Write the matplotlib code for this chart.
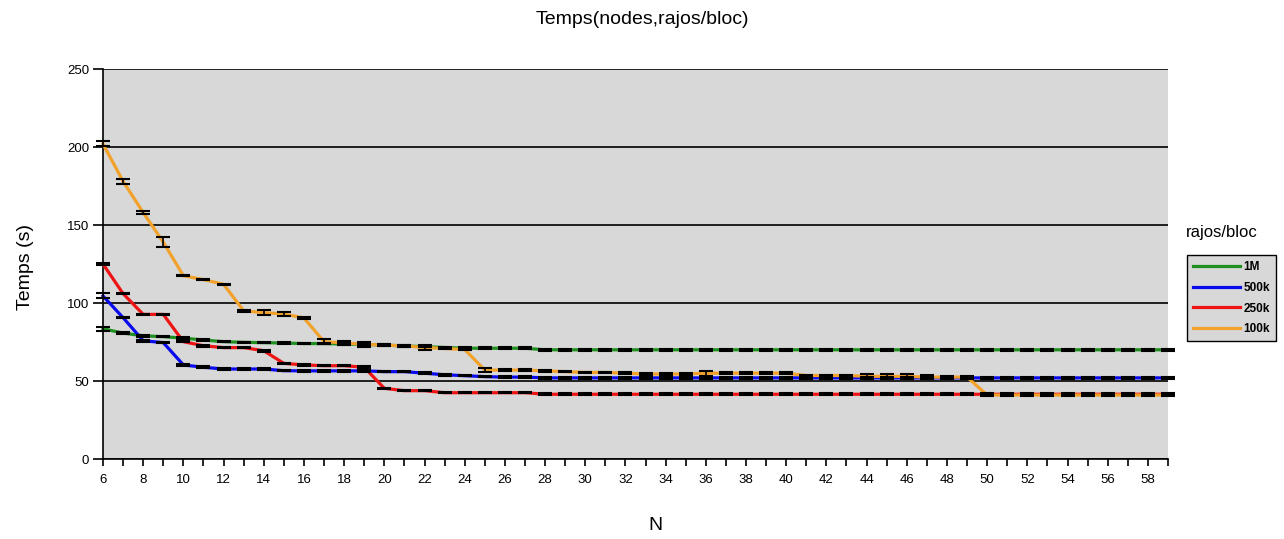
import matplotlib
matplotlib.use("Agg")
import matplotlib.pyplot as plt
from matplotlib.ticker import MultipleLocator

plt.rcParams['font.family'] = ['Liberation Sans', 'DejaVu Sans']

# N values (nodes)
nodes = list(range(6, 60))

# time per series, N = 6 .. 59
t_1M = [83.5, 80.7, 79, 78.4, 77.5, 76.3, 75.2, 74.8, 74.6, 74.3,
        74, 74, 73.7, 73.5, 73, 72.5, 72, 71.5, 71, 71,
        71, 71, 70, 70, 70, 70, 70, 70, 70, 70,
        70, 70, 70, 70, 70, 70, 70, 70, 70, 70,
        70, 70, 70, 70, 70, 70, 70, 70, 70, 70,
        70, 70, 70, 70]
t_500k = [104.5, 90.6, 75.8, 74.6, 60.3, 58.8, 57.7, 57.7, 57.7, 56.6,
          56.5, 56.5, 56.5, 56.5, 56, 56, 55, 54, 53.4, 52.8,
          52.5, 52.5, 52, 52, 52, 52, 52, 52, 52, 52,
          52, 52, 52, 52, 52, 52, 52, 52, 52, 52,
          52, 52, 52, 52, 52, 52, 52, 52, 52, 52,
          52, 52, 52, 52]
t_250k = [125, 106, 92.7, 92.7, 75.2, 72.6, 71.4, 71.4, 69.4, 61.3,
          60.3, 59.8, 59.8, 58.8, 45.3, 43.8, 43.8, 42.5, 42.5, 42.5,
          42.5, 42.5, 41.5, 41.5, 41.5, 41.5, 41.5, 41.5, 41.5, 41.5,
          41.5, 41.5, 41.5, 41.5, 41.5, 41.5, 41.5, 41.5, 41.5, 41.5,
          41.5, 41.5, 41.5, 41.5, 41.5, 41.5, 41.5, 41.5, 41.5, 41.5,
          41.5, 41.5, 41.5, 41.5]
t_100k = [202, 178, 158, 139, 117.5, 115, 112, 95, 93.8, 93,
          90.4, 75.2, 74.4, 73.5, 73, 72.5, 71.5, 70.8, 70.2, 57,
          57, 57, 56.5, 56, 55.5, 55.5, 55, 54.5, 54.5, 54.5,
          55, 55, 55, 55, 55, 53.5, 53.5, 53.5, 53, 53,
          53, 52.5, 52.5, 52.5, 41, 41, 41, 41, 41, 41,
          41, 41, 41, 41]

# error bars (half width)
e_1M = [1.3, 0.5, 0.5, 0.5, 0.5, 0.5, 0.5, 0.5, 0.5, 0.5,
        0.5, 0.5, 0.5, 0.5, 0.5, 0.5, 0.5, 0.5, 0.5, 0.5,
        0.5, 0.5, 0.5, 0.5, 0.5, 0.5, 0.5, 0.5, 0.5, 0.5,
        0.5, 0.5, 0.5, 0.5, 0.5, 0.5, 0.5, 0.5, 0.5, 0.5,
        0.5, 0.5, 0.5, 0.5, 0.5, 0.5, 0.5, 0.5, 0.5, 0.5,
        0.5, 0.5, 0.5, 0.5]
e_500k = [1.6, 0.5, 0.5, 0.5, 0.5, 0.5, 0.5, 0.5, 0.5, 0.5,
          0.5, 0.5, 0.5, 0.5, 0.5, 0.5, 0.5, 0.5, 0.5, 0.5,
          0.5, 0.5, 0.5, 0.5, 0.5, 0.5, 0.5, 0.5, 0.5, 0.5,
          0.5, 0.5, 0.5, 0.5, 0.5, 0.5, 0.5, 0.5, 0.5, 0.5,
          0.5, 0.5, 0.5, 0.5, 0.5, 0.5, 0.5, 0.5, 0.5, 0.5,
          0.5, 0.5, 0.5, 0.5]
e_250k = [0.5, 0.5, 0.5, 0.5, 0.5, 0.5, 0.5, 0.5, 0.5, 0.5,
          0.5, 0.5, 0.5, 0.5, 0.5, 0.5, 0.5, 0.5, 0.5, 0.5,
          0.5, 0.5, 0.5, 0.5, 0.5, 0.5, 0.5, 0.5, 0.5, 0.5,
          0.5, 0.5, 0.5, 0.5, 0.5, 0.5, 0.5, 0.5, 0.5, 0.5,
          0.5, 0.5, 0.5, 0.5, 0.5, 0.5, 0.5, 0.5, 0.5, 0.5,
          0.5, 0.5, 0.5, 0.5]
e_100k = [1.6, 1.5, 1.2, 3.4, 0.5, 0.5, 0.5, 0.5, 1.5, 1.5,
          0.5, 1.5, 1.5, 1.5, 0.5, 0.5, 1.5, 0.5, 0.5, 1.5,
          0.5, 0.5, 0.5, 0.5, 0.5, 0.5, 0.5, 0.5, 0.5, 0.5,
          1.6, 0.5, 0.5, 0.5, 0.5, 0.5, 0.5, 0.5, 1.5, 1.5,
          1.5, 1.5, 0.5, 0.5, 0.5, 0.5, 0.5, 0.5, 0.5, 0.5,
          0.5, 0.5, 0.5, 0.5]

series = [("1M", t_1M, e_1M, "#1f8f1f"),
          ("500k", t_500k, e_500k, "#0a0aee"),
          ("250k", t_250k, e_250k, "#ee1414"),
          ("100k", t_100k, e_100k, "#f2a22a")]

fig = plt.figure(figsize=(12.84, 5.39), dpi=100)
ax = fig.add_axes([103 / 1284, 80 / 539, 1065 / 1284, 390 / 539])
ax.set_facecolor("#d8d8d8")

for name, vals, errs, col in series:
    ax.plot(nodes, vals, color=col, lw=2.3, label=name, clip_on=False, zorder=3)

# black error caps on top of all the lines
for name, vals, errs, col in series:
    ax.errorbar(nodes, vals, yerr=errs, fmt="none", ecolor="black",
                elinewidth=1.2, capsize=5, capthick=1.5, zorder=5, clip_on=False)

ax.set_xlim(6, 59)
ax.set_ylim(0, 250)
ax.yaxis.set_major_locator(MultipleLocator(50))
ax.xaxis.set_major_locator(MultipleLocator(2))
ax.xaxis.set_minor_locator(MultipleLocator(1))
ax.grid(axis="y", color="black", lw=1.2)
ax.set_axisbelow(True)

for s in ["top", "right"]:
    ax.spines[s].set_visible(False)
ax.spines["left"].set_linewidth(1.2)
ax.spines["bottom"].set_linewidth(1.2)
ax.tick_params(axis="y", direction="out", length=7, width=1.2, labelsize=9.5, pad=3)
ax.tick_params(axis="x", which="both", direction="out", length=5, width=1.2, labelsize=9.5, pad=6)

fig.text(0.5, 0.963, "Temps(nodes,rajos/bloc)", ha="center", va="center", fontsize=14)
fig.text(25 / 1284, 0.505, "Temps (s)", ha="center", va="center", rotation=90, fontsize=14)
fig.text(655 / 1284, 1 - 525 / 539, "N", ha="center", va="center", fontsize=14)
fig.text(1222 / 1284, 1 - 232 / 539, "rajos/bloc", ha="center", va="center", fontsize=12)

leg = fig.legend(loc="upper left", bbox_to_anchor=(1187 / 1284, 1 - 255 / 539),
                 fontsize=8.5, handlelength=4, frameon=True, fancybox=False,
                 facecolor="#d8d8d8", edgecolor="black", framealpha=1,
                 borderpad=0.5, labelspacing=0.75, handletextpad=0.3, borderaxespad=0)
leg.get_frame().set_linewidth(1.0)
for t in leg.get_texts():
    t.set_fontweight("bold")

fig.savefig("out.png", dpi=100)
